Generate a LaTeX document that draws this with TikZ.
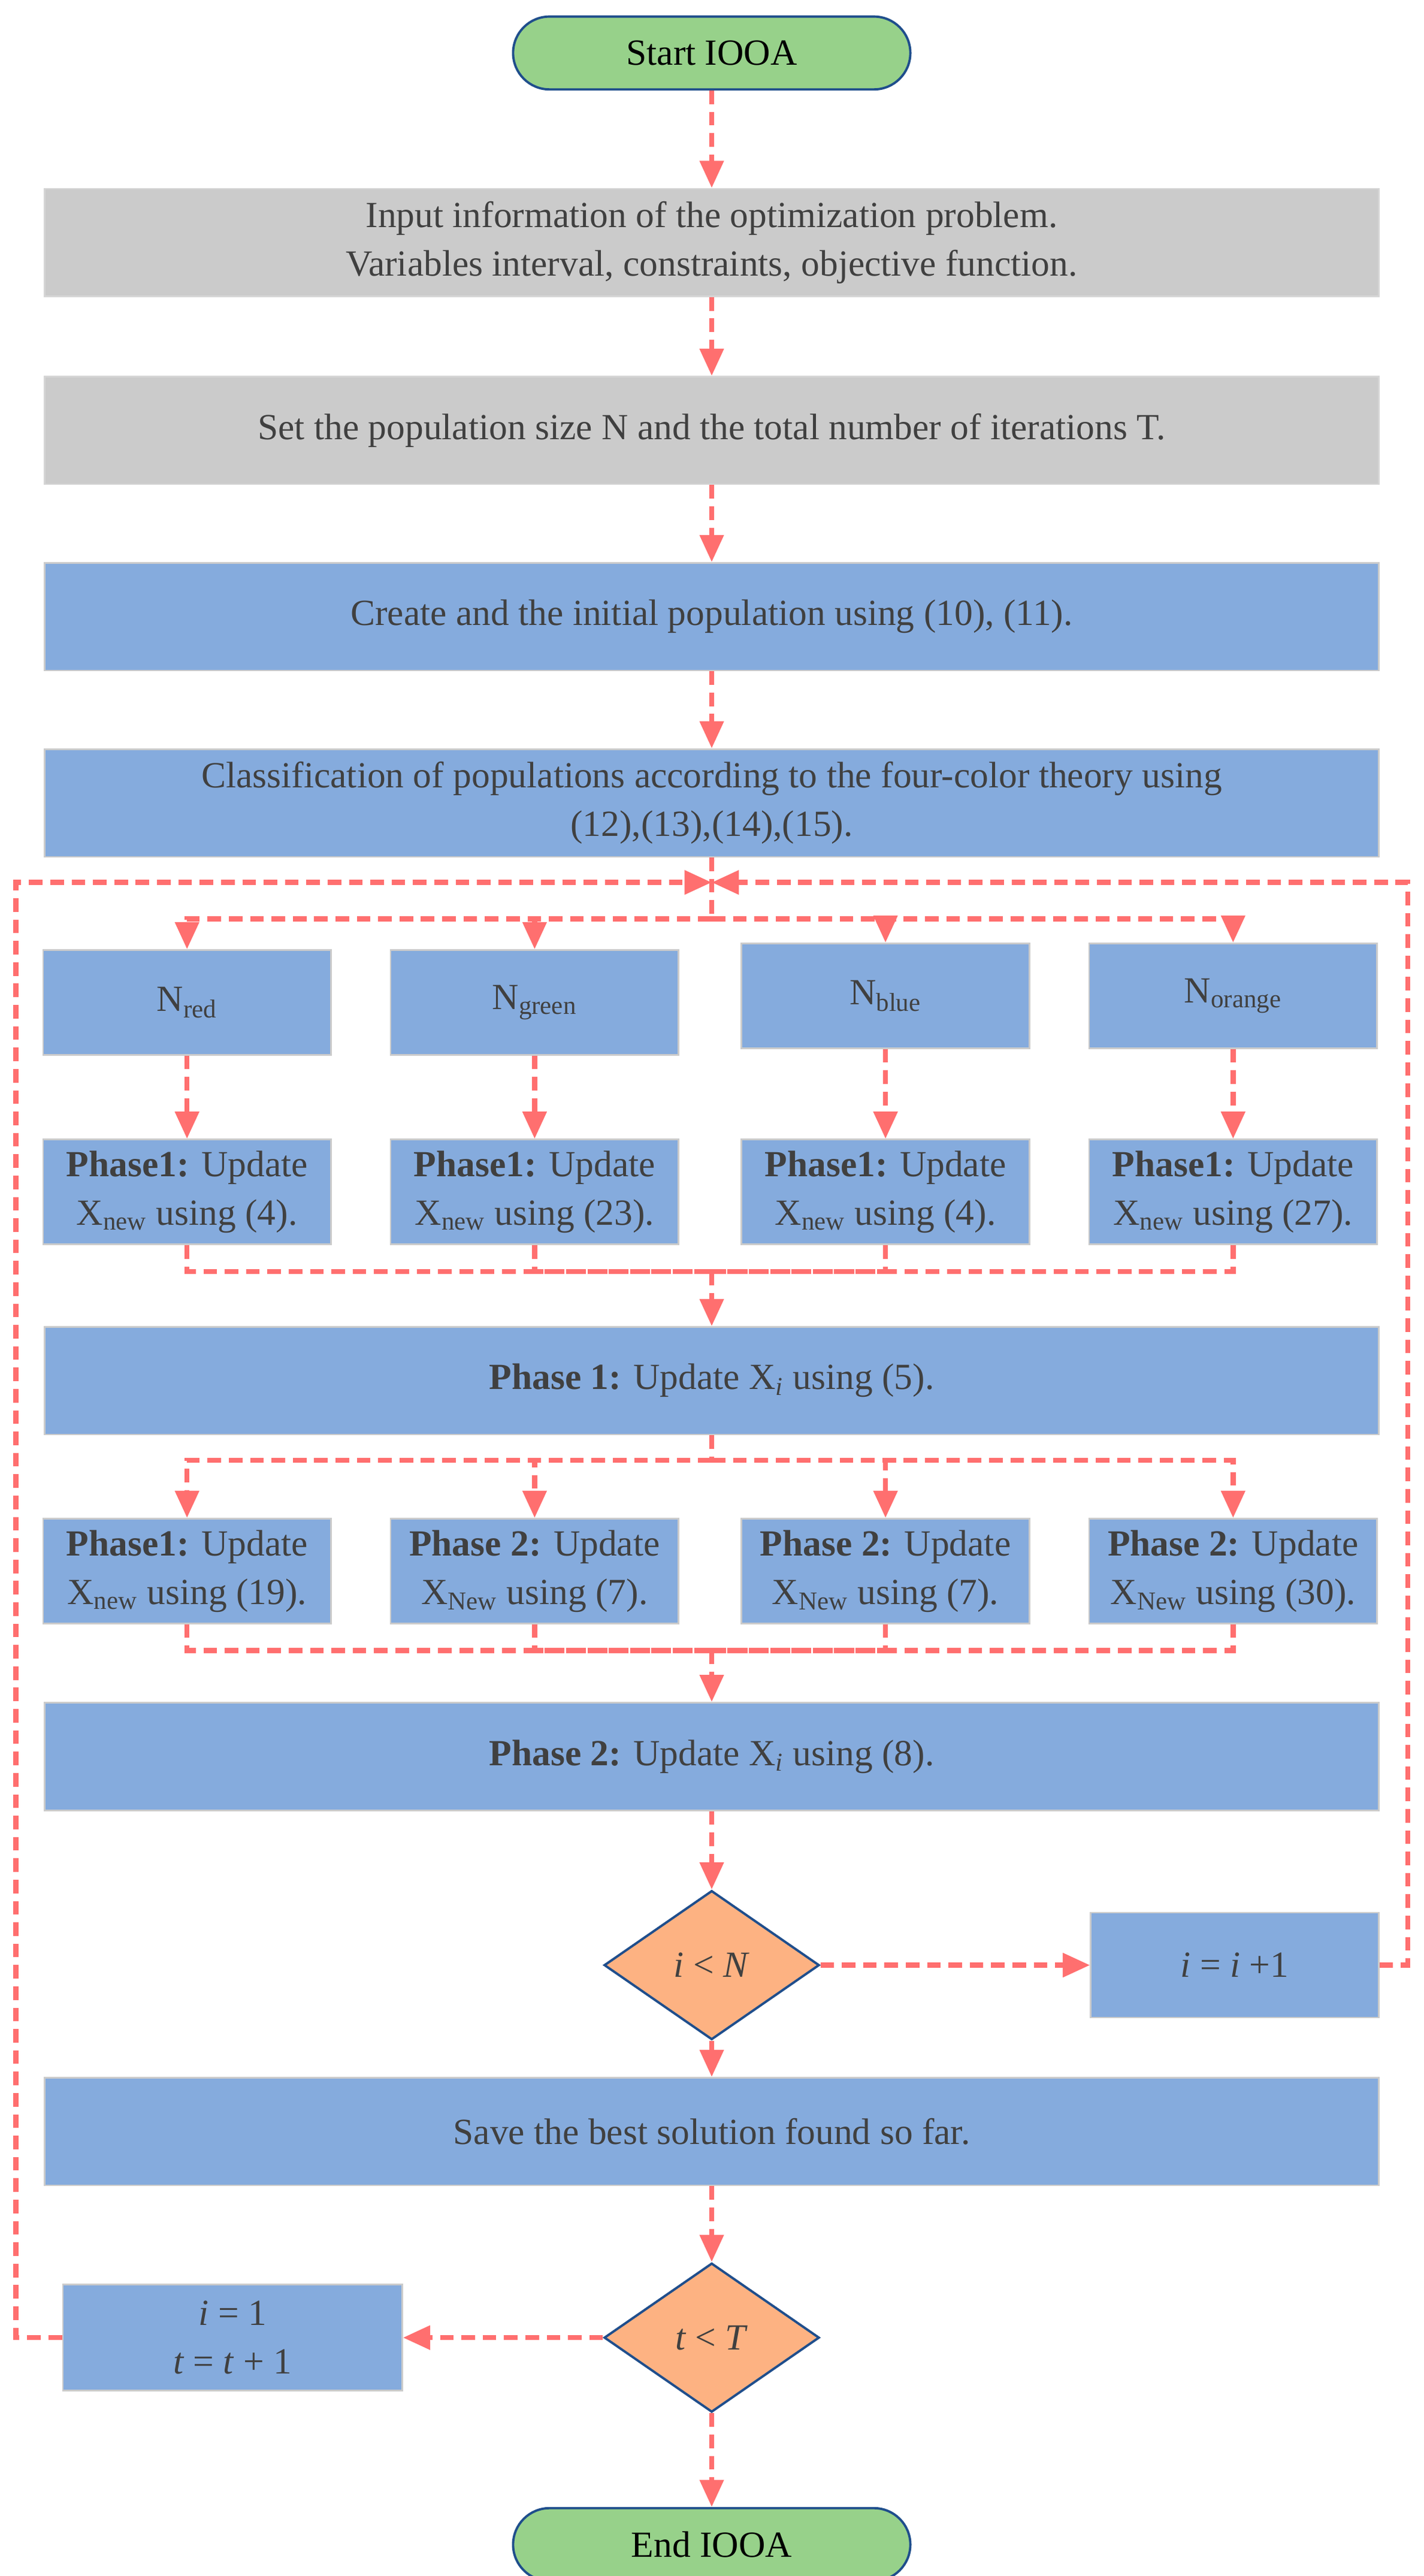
\documentclass[tikz,border=0pt]{standalone}
\usepackage{fontspec}
\setmainfont{Liberation Serif}
\usetikzlibrary{shapes.geometric, arrows.meta}
\definecolor{boxblue}{HTML}{85ABDD}
\definecolor{boxgray}{HTML}{CBCBCB}
\definecolor{termgreen}{HTML}{97D18A}
\definecolor{decorange}{HTML}{FDB282}
\definecolor{linered}{HTML}{FF6F6F}
\definecolor{edgeblue}{HTML}{1F4E8C}
\definecolor{txt}{HTML}{404040}
\tikzset{
    x=0.03cm, y=-0.03cm,
    every node/.style={font=\fontsize{19}{25}\selectfont, text=txt, align=center},
    block/.style={rectangle, fill=boxblue, draw=boxgray, line width=0.8pt, minimum width=24.18cm, minimum height=1.95cm}, % full width box
    inbox/.style={block, fill=boxgray, draw=boxgray!80},
    small/.style={rectangle, fill=boxblue, draw=boxgray, line width=0.8pt, minimum width=5.22cm, minimum height=1.9cm, inner sep=1pt},
    term/.style={rectangle, rounded corners=0.66cm, fill=termgreen, draw=edgeblue, line width=1.2pt, minimum width=7.2cm, minimum height=1.32cm, text=black},
    dec/.style={diamond, fill=decorange, draw=edgeblue, line width=1.2pt, minimum width=3.9cm, minimum height=2.7cm, inner sep=0pt},
    flow/.style={draw=linered, line width=2.6pt, dash pattern=on 7pt off 4pt, -{Triangle[length=14pt,width=12pt]}},
    line/.style={draw=linered, line width=2.6pt, dash pattern=on 7pt off 4pt},
}
\begin{document}
\begin{tikzpicture}
\useasboundingbox (0,0) rectangle (860,1556);
% main column
\node[term] (start) at (430,32) {Start IOOA};
\node[inbox] (input) at (430,146.5) {Input information of the optimization problem.\\Variables interval, constraints, objective function.};
\node[inbox] (set) at (430,260) {Set the population size N and the total number of iterations T.};
\node[block] (create) at (430,372.5) {Create and the initial population using (10), (11).};
\node[block] (classify) at (430,485) {Classification of populations according to the four-color theory using\\(12),(13),(14),(15).};
% colour groups
\node[small] (nred) at (113,605.5) {N\textsubscript{red}};
\node[small] (ngreen) at (323,605.5) {N\textsubscript{green}};
\node[small] (nblue) at (535,601.5) {N\textsubscript{blue}};
\node[small] (norange) at (745,601.5) {N\textsubscript{orange}};
\node[small] (pa) at (113,720) {\textbf{Phase1:} Update\\X\textsubscript{new} using (4).};
\node[small] (pb) at (323,720) {\textbf{Phase1:} Update\\X\textsubscript{new} using (23).};
\node[small] (pc) at (535,720) {\textbf{Phase1:} Update\\X\textsubscript{new} using (4).};
\node[small] (pd) at (745,720) {\textbf{Phase1:} Update\\X\textsubscript{new} using (27).};
\node[block] (phaseone) at (430,834) {\textbf{Phase 1:} Update X\textsubscript{\textit{i}} using (5).};
\node[small] (qa) at (113,949) {\textbf{Phase1:} Update\\X\textsubscript{new} using (19).};
\node[small] (qb) at (323,949) {\textbf{Phase 2:} Update\\X\textsubscript{New} using (7).};
\node[small] (qc) at (535,949) {\textbf{Phase 2:} Update\\X\textsubscript{New} using (7).};
\node[small] (qd) at (745,949) {\textbf{Phase 2:} Update\\X\textsubscript{New} using (30).};
\node[block] (phasetwo) at (430,1061) {\textbf{Phase 2:} Update X\textsubscript{\textit{i}} using (8).};
\node[dec] (iN) at (430,1187) {\textit{i} < \textit{N}};
\node[small, minimum height=1.9cm] (inc) at (746,1187) {\textit{i} = \textit{i} +1};
\node[block] (save) at (430,1287.5) {Save the best solution found so far.};
\node[dec] (tT) at (430,1412) {\textit{t} < \textit{T}};
\node[small, minimum width=6.15cm, minimum height=1.92cm] (reset) at (140.5,1412) {\textit{i} = 1\\\textit{t} = \textit{t} + 1};
\node[term] (end) at (430,1537) {End IOOA};
% junctions
\coordinate (top) at (430,533);
\coordinate (split) at (430,555);
\coordinate (merge) at (430,768);
\coordinate (split2) at (430,882);
\coordinate (merge2) at (430,997);
% straight flow
\draw[flow] (start) -- (input);
\draw[flow] (input) -- (set);
\draw[flow] (set) -- (create);
\draw[flow] (create) -- (classify);
\draw[line] (classify) -- (split);
\foreach \n in {nred,ngreen,nblue,norange}
  \draw[flow] (split) -| (\n);
\draw[flow] (nred) -- (pa);
\draw[flow] (ngreen) -- (pb);
\draw[flow] (nblue) -- (pc);
\draw[flow] (norange) -- (pd);
\foreach \n in {pa,pb,pc,pd}
  \draw[line] (\n) |- (merge);
\draw[flow] (merge) -- (phaseone);
\draw[line] (phaseone) -- (split2);
\foreach \n in {qa,qb,qc,qd}
  \draw[flow] (split2) -| (\n);
\foreach \n in {qa,qb,qc,qd}
  \draw[line] (\n) |- (merge2);
\draw[flow] (merge2) -- (phasetwo);
\draw[flow] (phasetwo) -- (iN);
\draw[flow] (iN) -- (inc);
\draw[flow] (iN) -- (save);
\draw[flow] (save) -- (tT);
\draw[flow] (tT) -- (reset);
\draw[flow] (tT) -- (end);
% loops back
\draw[flow] (inc.east) -- ++(17,0) |- (top);
\draw[flow] (reset.west) -- ++(-28,0) |- (top);
\end{tikzpicture}
\end{document}
